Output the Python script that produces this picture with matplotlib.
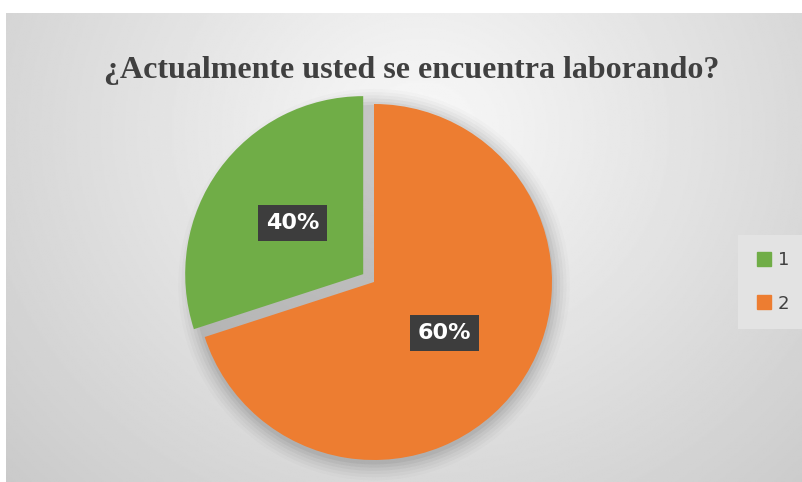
import numpy as np
import matplotlib
matplotlib.use("Agg")
from matplotlib import pyplot as plt
from matplotlib.lines import Line2D

# data
categories = ["1", "2"]
slice_sizes = [30, 70]          # visible share of each wedge
pct_labels = ["40%", "60%"]     # labels as printed on the chart
colors = ["#70AD47", "#ED7D31"]
title = "¿Actualmente usted se encuentra laborando?"

W, H = 802, 482
fig = plt.figure(figsize=(W / 100, H / 100), dpi=100)
fig.patch.set_facecolor("white")

# background panel with a radial gray gradient
bg = fig.add_axes([6 / W, 0, (W - 6) / W, (H - 13) / H])
bg.set_axis_off()
ny, nx = 300, 500
yy, xx = np.mgrid[0:ny, 0:nx]
cx, cy = 0.52 * nx, 0.25 * ny
d = np.sqrt(((xx - cx) / (0.62 * nx)) ** 2 + ((yy - cy) / (0.95 * ny)) ** 2)
shade = 0.975 - 0.16 * np.clip(d, 0, 1.2)
bg.imshow(shade, cmap="gray", vmin=0, vmax=1, aspect="auto",
          extent=[0, 1, 0, 1], origin="upper")
bg.set_xlim(0, 1)
bg.set_ylim(0, 1)

# pie axes: centre at (374, 282) px, radius 178 px
r_px = 178
size = 420
cxp, cyp = 374, H - 282
ax = fig.add_axes([(cxp - size / 2) / W, (cyp - size / 2) / H, size / W, size / H])
lim = size / 2 / r_px
ax.set_axis_off()

# soft shadow behind the pie
for k, a in zip(np.linspace(1.10, 1.01, 6), np.linspace(0.015, 0.05, 6)):
    ax.add_patch(plt.Circle((0, -0.015), k, color="black", alpha=a, lw=0))

wedges, texts = ax.pie(slice_sizes, colors=colors, startangle=90,
                       counterclock=True, explode=[0.075, 0],
                       labels=pct_labels, labeldistance=0.49,
                       wedgeprops=dict(linewidth=0),
                       radius=1, frame=False)
ax.set_xlim(-lim, lim)
ax.set_ylim(-lim, lim)
for t in texts:
    t.set_color("white")
    t.set_fontsize(16)
    t.set_fontweight("bold")
    t.set_family("DejaVu Sans")
    t.set_ha("center")
    t.set_va("center")
    t.set_bbox(dict(boxstyle="square,pad=0.35", facecolor="#3d3d3d",
                    edgecolor="none"))

fig.text(0.513, 0.853, title, ha="center", va="center",
         family="Liberation Serif", fontweight="bold", fontsize=23,
         color="#404040")

handles = [Line2D([0], [0], marker="s", linestyle="none", markersize=10,
                  markerfacecolor=c, markeredgecolor=c) for c in colors]
leg = fig.legend(handles, categories, loc="center",
                 bbox_to_anchor=(772 / W, 1 - 282 / H),
                 frameon=True, fancybox=False, facecolor="#e3e3e3",
                 edgecolor="none", framealpha=1, fontsize=13,
                 labelspacing=1.4, handletextpad=0.3, handlelength=1.0,
                 borderpad=0.9)
for t in leg.get_texts():
    t.set_color("#404040")

fig.savefig("out.png", dpi=100)
